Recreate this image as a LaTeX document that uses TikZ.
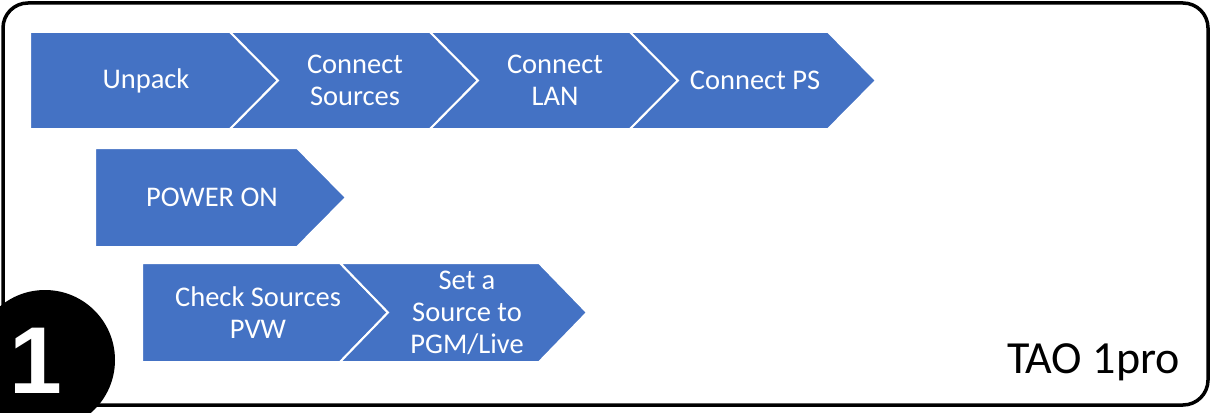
\documentclass[tikz,border=0pt]{standalone}
\usepackage{fontspec}
\setmainfont{Carlito}
\newfontfamily\numfont{Liberation Sans}
\usetikzlibrary{positioning,calc}
\definecolor{accblue}{HTML}{4472C4}

\begin{document}
\begin{tikzpicture}
[x=1pt,y=-1pt,
chev/.style={fill=accblue,draw=white,line width=2pt,line join=miter},
lbl/.style={text=white,align=center,inner sep=0pt,font=\fontsize{28.5}{32}\selectfont},
frm/.style={line width=3.5pt,rounded corners=25pt}]
\useasboundingbox (0,0) rectangle (1217,412);
%%
% frame
%%
\draw[frm] (3,3) rectangle (1208,405);
%%
% row 1
%%
\path[chev] (30,32) -- (230,32) -- (278,80.5) -- (230,129) -- (30,129) -- cycle;
\path[chev] (230,32) -- (430,32) -- (478,80.5) -- (430,129) -- (230,129) -- (278,80.5) -- cycle;
\path[chev] (430,32) -- (630,32) -- (678,80.5) -- (630,129) -- (430,129) -- (478,80.5) -- cycle;
\path[chev] (630,32) -- (828,32) -- (876,80.5) -- (828,129) -- (630,129) -- (678,80.5) -- cycle;
%
\node[lbl] (unpack) at (146,80.5) {Unpack};
\node[lbl] (csrc) at (355,80.5) {Connect\\Sources};
\node[lbl] (clan) at (555,80.5) {Connect\\LAN};
\node[lbl] (cps) at (755,80.5) {Connect PS};
%%
% row 2
%%
\path[chev] (95,148) -- (297,148) -- (346,197.5) -- (297,247) -- (95,247) -- cycle;
\node[lbl] (pwr) at (212,197.5) {POWER ON};
%%
% row 3
%%
\path[chev] (142,263) -- (340,263) -- (388,312.5) -- (340,362) -- (142,362) -- cycle;
\path[chev] (340,263) -- (539,263) -- (587,312.5) -- (539,362) -- (340,362) -- (388,312.5) -- cycle;
%
\node[lbl] (chk) at (258,312.5) {Check Sources\\PVW};
\node[lbl] (setpgm) at (467,313) {Set a\\Source to\\PGM/Live};
%%
% step number and model
%%
\fill (45,360) circle (70);
\node[text=white,inner sep=0pt,font=\numfont\bfseries\fontsize{95}{95}\selectfont] (num) at (36,361) {1};
\node[anchor=base east,inner sep=0pt,font=\fontsize{46}{50}\selectfont] (model) at (1180,373) {TAO 1pro};
\end{tikzpicture}
\end{document}
